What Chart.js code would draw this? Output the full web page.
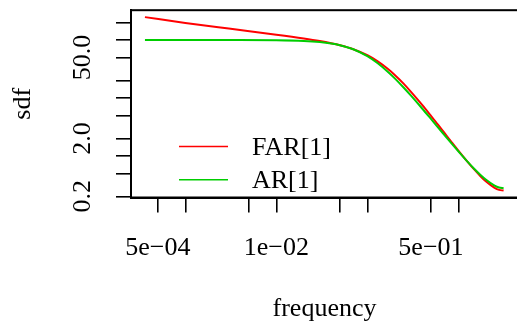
<!DOCTYPE html>
<html>
<head>
<meta charset="utf-8">
<script src="https://cdn.jsdelivr.net/npm/chart.js@4/dist/chart.umd.min.js"></script>
<style>
  html, body { margin: 0; padding: 0; background: #fff; overflow: hidden; width: 517px; height: 325px; }
  #wrap { width: 517px; height: 325px; overflow: hidden; position: relative; }
  canvas { display: block; }
</style>
</head>
<body>
<div id="wrap"><canvas id="c" width="530" height="325"></canvas></div>
<script>
// angular frequency (radians)
const frequency = [0.00036, 0.001, 0.003, 0.01, 0.02, 0.03, 0.04, 0.05, 0.07, 0.1, 0.13, 0.17, 0.2, 0.25, 0.3, 0.4, 0.5, 0.6, 0.7, 0.85, 1.0, 1.25, 1.5, 1.75, 2.0, 2.5, 2.8, 3.14];
// FAR[1] spectral density
const farSdf = [249, 198, 158, 124, 106.5, 96.2, 88.2, 81.4, 69.5, 54.7, 42.9, 31.3, 25.0, 17.7, 12.9, 7.60, 4.92, 3.42, 2.51, 1.70, 1.232, 0.803, 0.577, 0.446, 0.365, 0.281, 0.259, 0.2516];
// AR[1] spectral density
const arSdf = [100.0, 100.0, 99.9, 99.1, 96.5, 92.5, 87.4, 81.6, 69.4, 52.7, 39.7, 27.8, 21.8, 15.16, 11.06, 6.58, 4.34, 3.08, 2.31, 1.608, 1.194, 0.805, 0.594, 0.469, 0.391, 0.3075, 0.2852, 0.277];

const seriesNames = ['FAR[1]', 'AR[1]'];
const seriesColors = ['#FF0000', '#00CD00'];

const xTicks = [5e-4, 1e-3, 5e-3, 1e-2, 5e-2, 1e-1, 5e-1, 1];
const xTickLabels = ['5e\u221204', '', '', '1e\u221202', '', '', '5e\u221201', ''];
const yTicks = [0.2, 0.5, 1, 2, 5, 10, 20, 50, 100, 200];
const yTickLabels = ['0.2', '', '', '2.0', '', '', '', '50.0', '', ''];

const xTitle = 'frequency';
const yTitle = 'sdf';

const FONT = '26px "Liberation Serif"';

const textPlugin = {
  id: 'textPlugin',
  afterDraw(chart) {
    const { ctx, chartArea: a, scales } = chart;
    const xs = scales.x, ys = scales.y;
    ctx.save();
    // box
    ctx.strokeStyle = '#000';
    ctx.lineWidth = 2;
    ctx.strokeRect(a.left, a.top, a.right - a.left, a.bottom - a.top);

    ctx.fillStyle = '#000';
    ctx.font = FONT;
    ctx.textAlign = 'center';
    ctx.textBaseline = 'alphabetic';
    // x tick labels
    xTicks.forEach((v, i) => {
      if (!xTickLabels[i]) return;
      ctx.fillText(xTickLabels[i], xs.getPixelForValue(v), 255);
    });
    // y tick labels (rotated)
    yTicks.forEach((v, i) => {
      if (!yTickLabels[i]) return;
      ctx.save();
      ctx.translate(90, ys.getPixelForValue(v));
      ctx.rotate(-Math.PI / 2);
      ctx.fillText(yTickLabels[i], 0, 0);
      ctx.restore();
    });
    // axis titles
    ctx.fillText(xTitle, (a.left + 518) / 2, 316);
    ctx.save();
    ctx.translate(30, (a.top + a.bottom) / 2);
    ctx.rotate(-Math.PI / 2);
    ctx.fillText(yTitle, 0, 0);
    ctx.restore();

    // legend
    const rows = [146.5, 179.7];
    const baselines = [155, 188.3];
    ctx.textAlign = 'left';
    seriesNames.forEach((n, i) => {
      ctx.strokeStyle = seriesColors[i];
      ctx.lineWidth = 1.6;
      ctx.beginPath();
      ctx.moveTo(179, rows[i]);
      ctx.lineTo(228, rows[i]);
      ctx.stroke();
      ctx.fillStyle = '#000';
      ctx.fillText(n, 252, baselines[i]);
    });
    ctx.restore();
  }
};

const mk = (vals) => frequency.map((f, i) => ({ x: f, y: vals[i] }));

new Chart(document.getElementById('c'), {
  type: 'line',
  data: {
    datasets: [
      { label: seriesNames[0], data: mk(farSdf), borderColor: seriesColors[0], borderWidth: 2, pointRadius: 0, cubicInterpolationMode: 'monotone', fill: false, order: 1 },
      { label: seriesNames[1], data: mk(arSdf), borderColor: seriesColors[1], borderWidth: 2, pointRadius: 0, cubicInterpolationMode: 'monotone', fill: false, order: 0 }
    ]
  },
  options: {
    responsive: false,
    animation: false,
    devicePixelRatio: 1,
    layout: { padding: { top: 8, right: 12, left: 0, bottom: 0 } },
    plugins: { legend: { display: false }, tooltip: { enabled: false } },
    scales: {
      x: {
        type: 'logarithmic',
        min: 2.53e-4,
        max: 4.52,
        afterBuildTicks: (s) => { s.ticks = xTicks.map(v => ({ value: v })); },
        afterFit: (s) => { s.height = 127.5; },
        ticks: { autoSkip: false, maxRotation: 0, callback: () => '' },
        grid: { drawOnChartArea: false, drawTicks: true, tickLength: 15, color: '#000', lineWidth: 1.6 },
        border: { display: true, color: '#000', width: 2 }
      },
      y: {
        type: 'logarithmic',
        min: 0.191,
        max: 328,
        afterBuildTicks: (s) => { s.ticks = yTicks.map(v => ({ value: v })); },
        afterFit: (s) => { s.width = 131; },
        ticks: { autoSkip: false, callback: () => '' },
        grid: { drawOnChartArea: false, drawTicks: true, tickLength: 15, color: '#000', lineWidth: 1.6 },
        border: { display: true, color: '#000', width: 2 }
      }
    }
  },
  plugins: [textPlugin]
});
</script>
</body>
</html>
